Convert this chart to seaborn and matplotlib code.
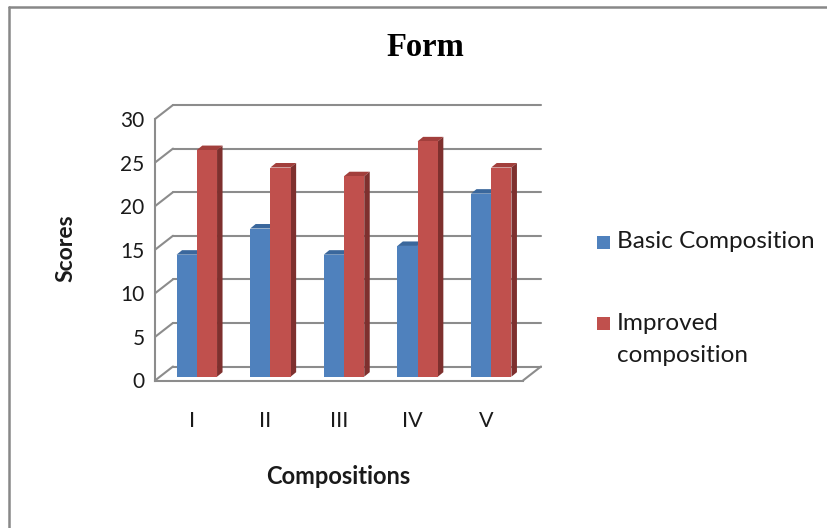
import matplotlib
matplotlib.use("Agg")
import matplotlib.pyplot as plt
from matplotlib.patches import Polygon, Rectangle
from matplotlib.lines import Line2D
import seaborn as sns
import pandas as pd

# Scores per composition
compositions = ["I", "II", "III", "IV", "V"]
basic_scores = [14, 17, 14, 15, 21]
improved_scores = [26, 24, 23, 27, 24]
series_names = ["Basic Composition", "Improved\ncomposition"]
y_ticks = [0, 5, 10, 15, 20, 25, 30]

BLUE, BLUE_TOP = "#4F81BD", "#3A679C"
RED, RED_TOP, RED_SIDE = "#C0504D", "#A23F3C", "#7E302E"
GRID = "#8C8C8C"
TEXT = "#1a1a1a"

df = pd.DataFrame({
    "Compositions": compositions * 2,
    "Scores": basic_scores + improved_scores,
    "series": [series_names[0]] * 5 + [series_names[1]] * 5,
})

sns.set_style("white")
plt.rcParams["font.family"] = ["Lato", "DejaVu Sans"]

W, H = 828, 528
fig = plt.figure(figsize=(W / 100, H / 100), dpi=100)

# front plane of the plot box in pixels
px_left, px_right, px_bottom, px_top = 155, 523, 380.5, 119
ax = fig.add_axes([px_left / W, (H - px_bottom) / H,
                   (px_right - px_left) / W, (px_bottom - px_top) / H])

sns.barplot(data=df, x="Compositions", y="Scores", hue="series",
            palette=[BLUE, RED], width=0.55, saturation=1, legend=False,
            ax=ax, zorder=3)
ax.set_xlim(-0.5, 4.5)
ax.set_ylim(0, 30)

# depth offsets (data units) for the wall and for the bars
x_unit = (px_right - px_left) / 5
y_unit = (px_bottom - px_top) / 30
wall_dx, wall_dy = 18 / x_unit, 14 / y_unit
bar_dx, bar_dy = 5 / x_unit, 3.8 / y_unit
face_dx, face_dy = 5.5 / x_unit, 4.5 / y_unit

# back wall gridlines and side-wall diagonals
for v in y_ticks:
    ax.add_line(Line2D([-0.5 + wall_dx, 4.5 + wall_dx], [v + wall_dy] * 2,
                       color=GRID, lw=1.5, clip_on=False, zorder=1))
    ax.add_line(Line2D([-0.5, -0.5 + wall_dx], [v, v + wall_dy],
                       color=GRID, lw=1.5, clip_on=False, zorder=1))
ax.add_line(Line2D([4.5, 4.5 + wall_dx], [0, wall_dy],
                   color=GRID, lw=1.5, clip_on=False, zorder=1))

# give each bar a top and a side face
n = len(compositions)
for i, patch in enumerate(ax.patches):
    is_red = i >= n
    x0 = patch.get_x() + bar_dx
    w = patch.get_width()
    h = patch.get_height()
    patch.set_x(x0)
    patch.set_y(bar_dy)
    patch.set_edgecolor("none")
    top = bar_dy + h
    z = 4 if is_red else 3
    ax.add_patch(Polygon([(x0, top), (x0 + w, top),
                          (x0 + w + face_dx, top + face_dy),
                          (x0 + face_dx, top + face_dy)],
                         closed=True, fc=RED_TOP if is_red else BLUE_TOP,
                         ec="none", zorder=z, clip_on=False))
    ax.add_patch(Polygon([(x0 + w, bar_dy), (x0 + w + face_dx, bar_dy + face_dy),
                          (x0 + w + face_dx, top + face_dy), (x0 + w, top)],
                         closed=True, fc=RED_SIDE if is_red else BLUE_TOP,
                         ec="none", zorder=z, clip_on=False))
    patch.set_zorder(z + 0.5)

# front axis lines
for s in ["top", "right"]:
    ax.spines[s].set_visible(False)
for s in ["left", "bottom"]:
    ax.spines[s].set_color(GRID)
    ax.spines[s].set_linewidth(1.5)
    ax.spines[s].set_zorder(6)
ax.set_yticks(y_ticks)
ax.tick_params(axis="y", direction="out", length=6, width=1.5, color=GRID,
               pad=1.5, labelsize=15, labelcolor=TEXT)
ax.tick_params(axis="x", length=0, pad=22, labelsize=15.5, labelcolor=TEXT)
ax.grid(False)

ax.set_ylabel("Scores", fontsize=16.5, fontweight="bold", va="center", color=TEXT)
ax.yaxis.set_label_coords((66 - px_left) / (px_right - px_left),
                          (px_bottom - 248) / (px_bottom - px_top))
ax.set_xlabel("Compositions", fontsize=17, fontweight="bold", va="center",
              color=TEXT)
ax.xaxis.set_label_coords((338 - px_left) / (px_right - px_left),
                          (px_bottom - 477) / (px_bottom - px_top))

fig.text(425 / W, 1 - 47 / H, "Form", ha="center", va="center",
         fontsize=23.5, fontweight="bold", family="Liberation Serif", color="black")

# legend
def fig_rect(x, y, w, h, color):
    fig.patches.append(Rectangle((x / W, 1 - (y + h) / H), w / W, h / H,
                                 transform=fig.transFigure, fc=color, ec="none"))

fig_rect(597, 236, 13, 13, BLUE)
fig.text(617 / W, 1 - 242 / H, series_names[0], ha="left", va="center",
         fontsize=17.5, color=TEXT)
fig_rect(597, 317, 13, 13, RED)
fig.text(617 / W, 1 - 323 / H, "Improved", ha="left", va="center",
         fontsize=17.5, color=TEXT)
fig.text(617 / W, 1 - 355 / H, "composition", ha="left", va="center",
         fontsize=17.5, color=TEXT)

# chart frame (top and left edges)
fig.lines.append(Line2D([9 / W, 1], [1 - 7 / H, 1 - 7 / H], transform=fig.transFigure,
                        color="#888888", lw=1.8))
fig.lines.append(Line2D([9 / W, 9 / W], [0, 1 - 7 / H], transform=fig.transFigure,
                        color="#888888", lw=1.8))

fig.savefig("out.png", dpi=100)
